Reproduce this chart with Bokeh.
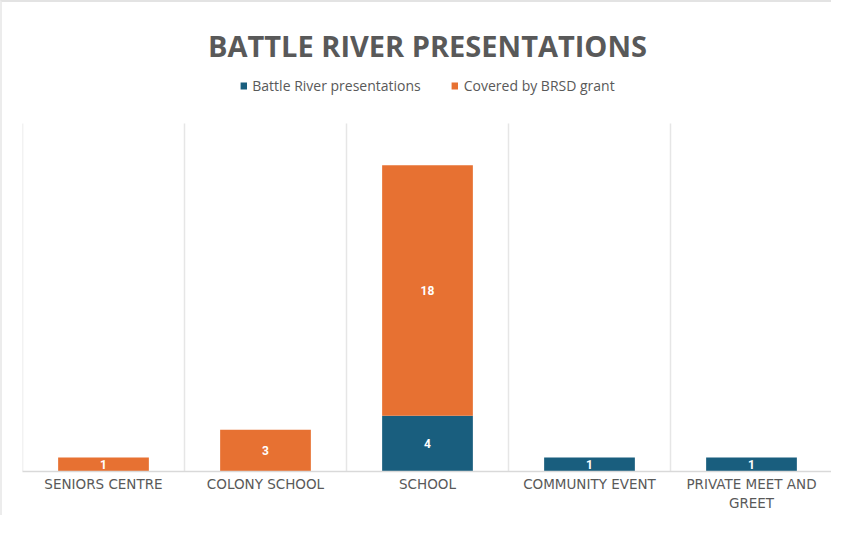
import json
from bokeh.plotting import figure
from bokeh.models import (ColumnDataSource, Legend, LegendItem, FactorRange, CategoricalAxis,
                          CustomJSTickFormatter)
from bokeh.core.properties import value
from bokeh.embed import file_html
from bokeh.resources import INLINE

categories = ["SENIORS CENTRE", "COLONY SCHOOL", "SCHOOL", "COMMUNITY EVENT", "PRIVATE MEET AND GREET"]
battle_river = [0, 0, 4, 1, 1]
brsd_grant = [1, 3, 18, 0, 0]
series_names = ["Battle River presentations", "Covered by BRSD grant"]
colors = ["#195E7E", "#E77132"]
value_axis_max = 25
# tick labels as wrapped in the reference (first line, second line)
label_line1 = {"PRIVATE MEET AND GREET": "PRIVATE MEET AND"}
label_line2 = {"PRIVATE MEET AND GREET": "GREET"}

TEXT_GRAY = "#595959"

# frame extends above the value axis max to hold the legend (as in the reference layout)
FRAME_H = 399
AXIS_H = 348
y_end = value_axis_max * FRAME_H / AXIS_H

source = ColumnDataSource(dict(cat=categories, br=battle_river, gr=brsd_grant))

p = figure(
    x_range=FactorRange(*categories, range_padding=0, factor_padding=0),
    y_range=(0, y_end),
    width=831, height=515,
    output_backend="svg", toolbar_location=None,
    min_border_left=20, min_border_right=1, min_border_top=70, min_border_bottom=46,
    outline_line_color=None,
)
p.styles = {"border-top": "2px solid #e3e3e3", "border-left": "2px solid #ececec"}

p.title.text = "BATTLE RIVER PRESENTATIONS"
p.title.align = "center"
p.title.text_font = "Open Sans"
p.title.text_font_size = "29px"
p.title.text_font_style = "bold"
p.title.text_color = TEXT_GRAY
p.title.standoff = 16

# category boundary gridlines (up to the value-axis max)
n = len(categories)
p.segment(x0=list(range(n + 1)), y0=[0] * (n + 1), x1=list(range(n + 1)), y1=[value_axis_max] * (n + 1),
          line_color="#e6e6e6", line_width=1.5)

renderers = p.vbar_stack(["br", "gr"], x="cat", width=0.56, color=colors, source=source,
                         line_color=None)

legend = Legend(items=[LegendItem(label=series_names[i], renderers=[renderers[i]]) for i in range(2)],
                orientation="horizontal", location="top_center",
                label_text_font="Open Sans", label_text_font_size="14px", label_text_color=TEXT_GRAY,
                glyph_width=8, glyph_height=9, label_standoff=5, spacing=30,
                border_line_color=None, background_fill_alpha=0, padding=0, margin=4)
p.add_layout(legend)

p.xgrid.visible = False
p.ygrid.visible = False

# data labels
lx, ly, lt = [], [], []
for c, a, b in zip(categories, battle_river, brsd_grant):
    if a:
        lx.append(c); ly.append(a / 2); lt.append(str(a))
    if b:
        lx.append(c); ly.append(a + b / 2); lt.append(str(b))
p.text(x=lx, y=ly, text=lt, text_align="center", text_baseline="middle",
       text_color="white", text_font=value("Roboto"), text_font_size="12px",
       text_font_style="bold")

p.yaxis.visible = False
xa = p.xaxis[0]
xa.axis_line_color = "#d9d9d9"
xa.axis_line_width = 1.5
xa.major_tick_line_color = None
xa.minor_tick_line_color = None
xa.major_tick_out = 0
xa.major_tick_in = 0
xa.major_label_text_font = "DejaVu Sans"
xa.major_label_text_font_size = "13.5px"
xa.major_label_text_color = TEXT_GRAY
xa.major_label_standoff = 4
xa.formatter = CustomJSTickFormatter(
    code="const m = %s; return (tick in m) ? m[tick] : tick;" % json.dumps(label_line1))

xa2 = CategoricalAxis(axis_line_color=None, major_tick_line_color=None, minor_tick_line_color=None,
                      major_tick_out=0, major_tick_in=0,
                      major_label_text_font="DejaVu Sans", major_label_text_font_size="13.5px",
                      major_label_text_color=TEXT_GRAY, major_label_standoff=0)
xa2.formatter = CustomJSTickFormatter(
    code="const m = %s; return (tick in m) ? m[tick] : '';" % json.dumps(label_line2))
p.add_layout(xa2, "below")

open("out.html", "w").write(file_html(p, INLINE))
